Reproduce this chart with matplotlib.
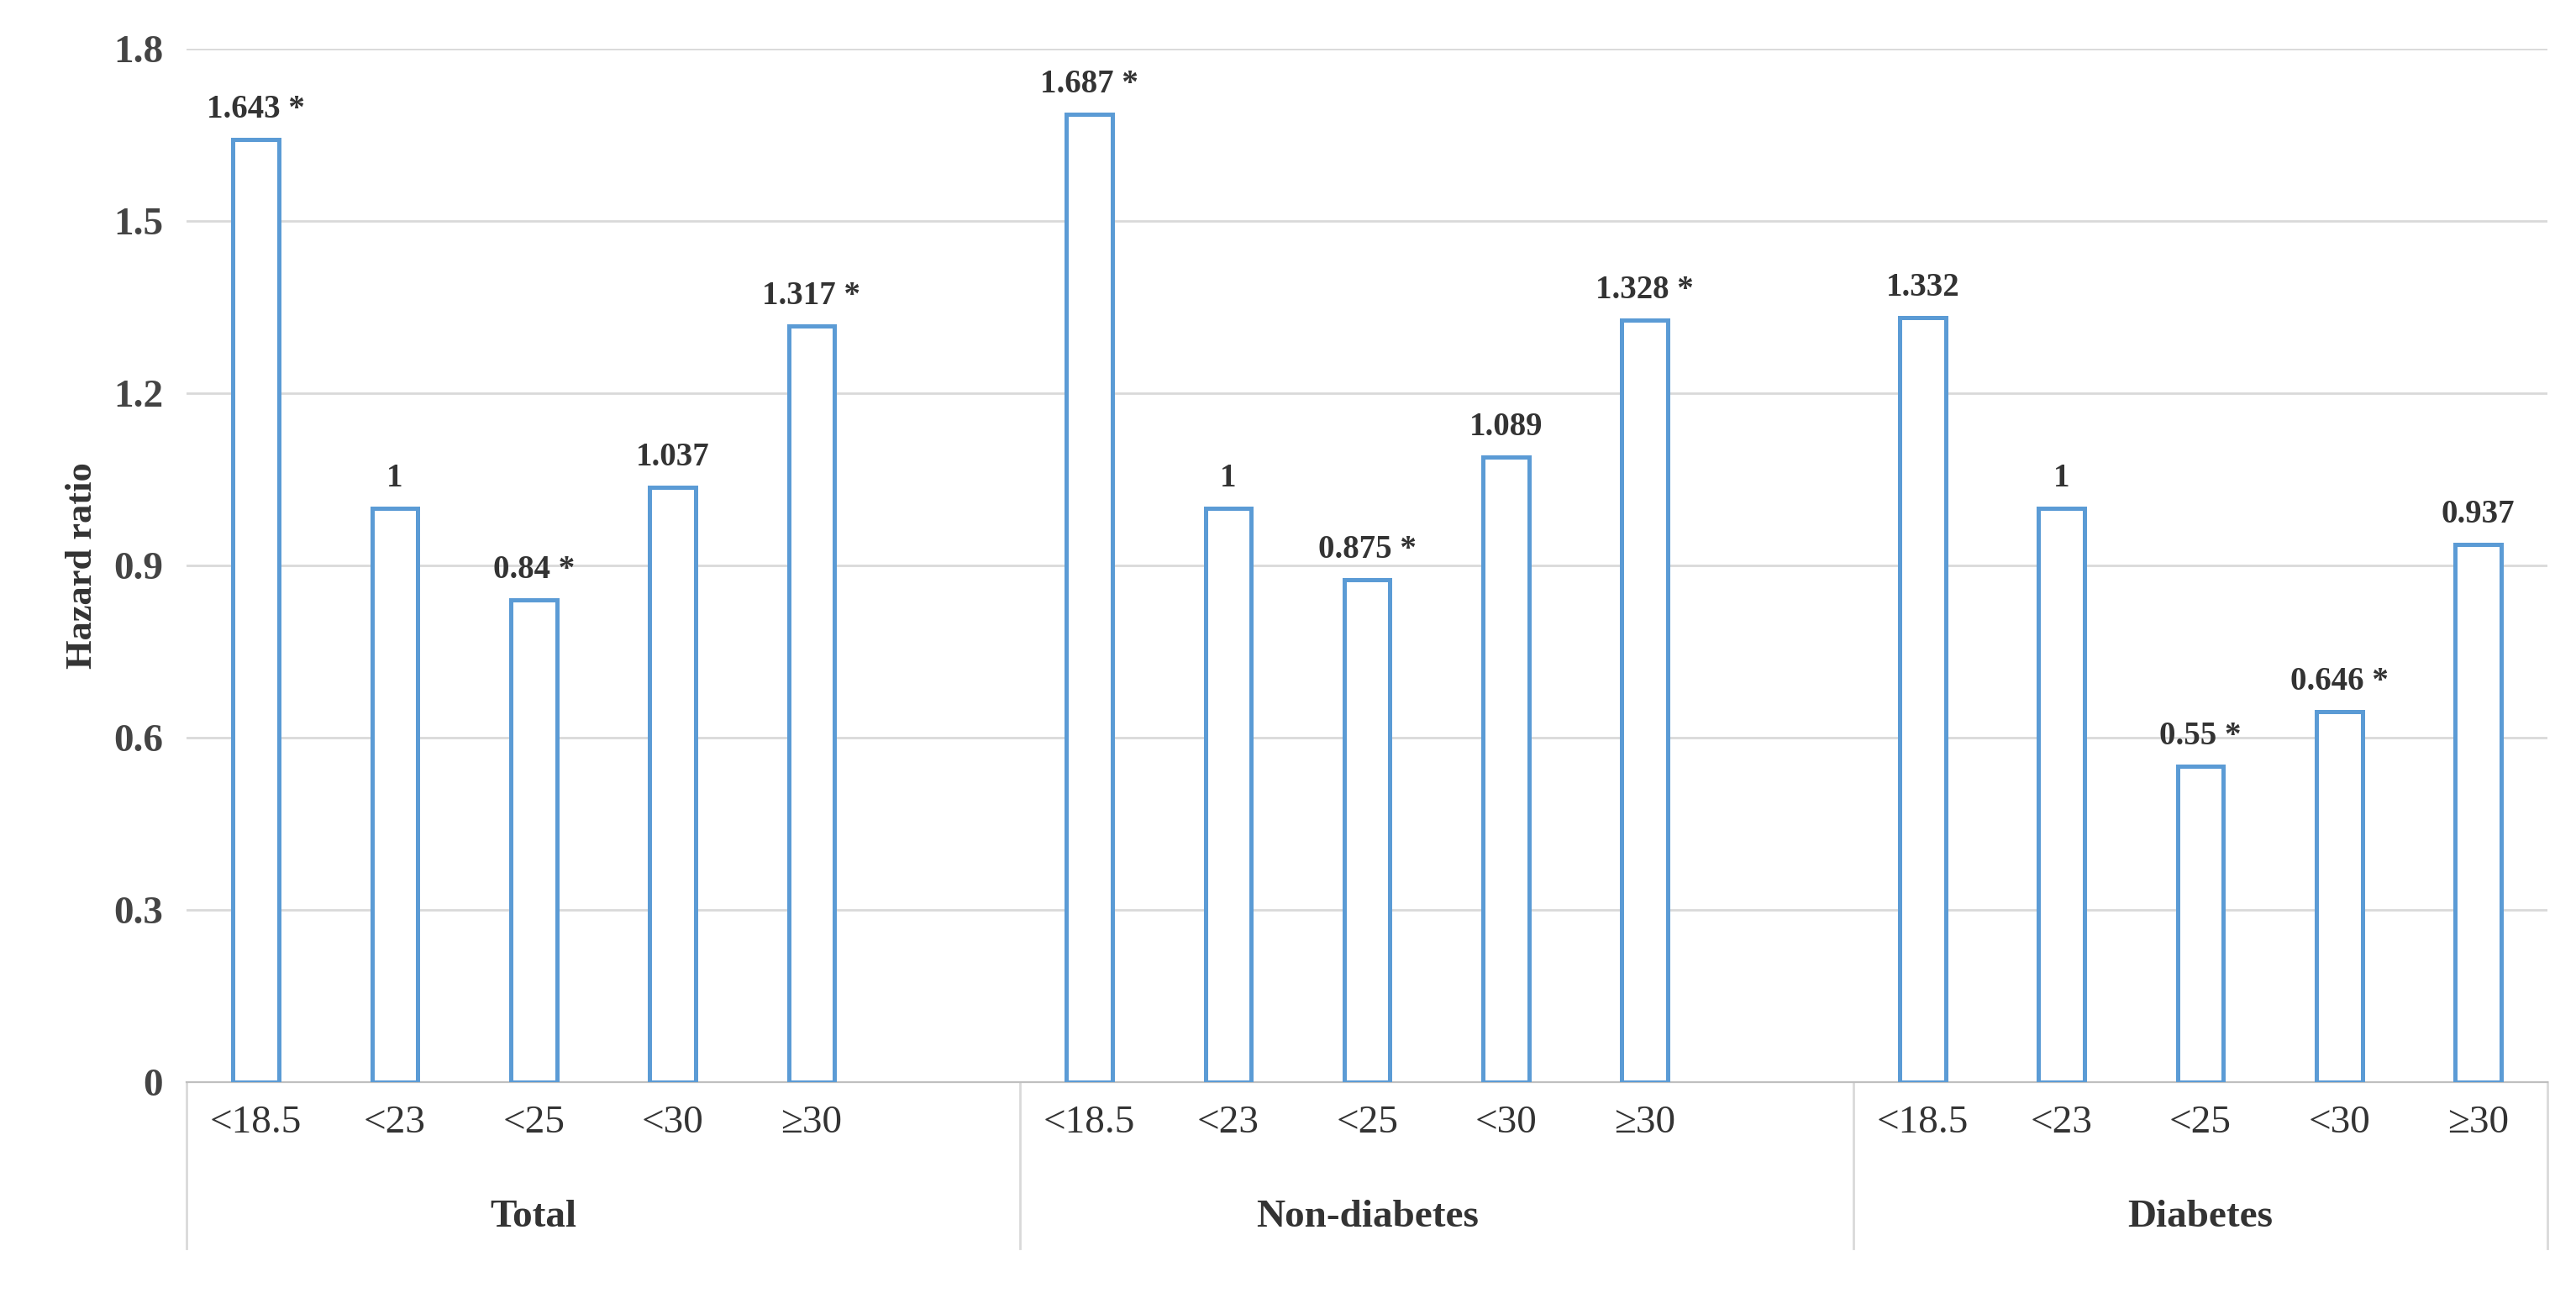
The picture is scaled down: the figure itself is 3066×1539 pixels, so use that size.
import numpy as np
import matplotlib.pyplot as plt

groups = ['Total', 'Non-diabetes', 'Diabetes']
categories = ['<18.5', '<23', '<25', '<30', '\u226530']
values = [
    [1.643, 1, 0.84, 1.037, 1.317],
    [1.687, 1, 0.875, 1.089, 1.328],
    [1.332, 1, 0.55, 0.646, 0.937],
]
labels = [
    ['1.643 *', '1', '0.84 *', '1.037', '1.317 *'],
    ['1.687 *', '1', '0.875 *', '1.089', '1.328 *'],
    ['1.332', '1', '0.55 *', '0.646 *', '0.937'],
]

plt.rcParams['font.family'] = ['Liberation Serif', 'DejaVu Serif']
fig = plt.figure(figsize=(15.33, 7.695), dpi=200)
ax = fig.add_axes([0.0724, 0.163, 0.9166, 0.799])

blue = '#5B9BD5'
dark = '#333333'
slot = 6
for g, vals in enumerate(values):
    x = np.arange(len(vals)) + g * slot
    ax.bar(x, vals, width=0.33, color='white', edgecolor=blue, linewidth=1.8, zorder=3)
    for xi, v, t in zip(x, vals, labels[g]):
        ax.text(xi, v + 0.025, t, ha='center', va='bottom', fontsize=14,
                fontweight='bold', color=dark)

ax.set_xlim(-0.5, 3 * slot - 1.5)
ax.set_ylim(0, 1.8)
ax.set_yticks(np.arange(0, 1.81, 0.3))
ax.set_yticklabels(['0', '0.3', '0.6', '0.9', '1.2', '1.5', '1.8'],
                   fontsize=17, fontweight='bold', color='#444444')
ax.set_ylabel('Hazard ratio', fontsize=16, fontweight='bold', color=dark, labelpad=6)
ax.grid(axis='y', color='#D9D9D9', linewidth=1, zorder=0)

xt = np.concatenate([np.arange(5) + g * slot for g in range(3)])
ax.set_xticks(xt)
ax.set_xticklabels(categories * 3, fontsize=17, color=dark)
ax.tick_params(axis='both', length=0, pad=10)
for s in ['top', 'right', 'left']:
    ax.spines[s].set_visible(False)
ax.spines['bottom'].set_color('#BFBFBF')

# group separators and labels below the axis
for b in [-0.5, slot - 0.5, 2 * slot - 0.5, 3 * slot - 1.5]:
    ax.plot([b, b], [0, -0.29], color='#D9D9D9', linewidth=1,
            clip_on=False, transform=ax.transData)
for g, name in enumerate(groups):
    ax.text(g * slot + 2, -0.235, name, ha='center', va='center', fontsize=17,
            fontweight='bold', color=dark)

fig.savefig('out.png', dpi=200)
